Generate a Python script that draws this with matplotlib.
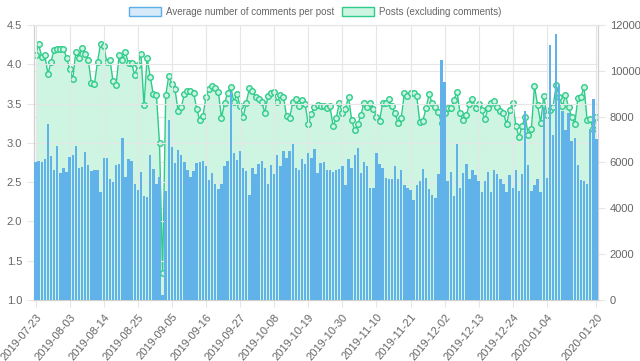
import datetime as dt
import matplotlib
matplotlib.use('Agg')
import matplotlib.pyplot as plt
from matplotlib.patches import Patch

plt.rcParams['font.family'] = ['Liberation Sans', 'DejaVu Sans']

start = dt.date(2019, 7, 23)
fechas = [(start + dt.timedelta(days=i)).isoformat() for i in range(182)]

# promedio de comentarios por post (eje izquierdo)
comentarios = [
    2.76, 2.77, 2.75, 2.79, 3.24, 2.83, 2.66, 2.96, 2.62, 2.68,
    2.63, 2.82, 2.85, 2.96, 2.68, 2.69, 2.88, 2.72, 2.64, 2.65,
    2.65, 2.37, 2.81, 2.81, 2.54, 2.50, 2.72, 2.73, 3.06, 2.56,
    2.80, 2.77, 2.48, 2.40, 2.63, 2.32, 2.31, 2.85, 2.67, 2.48,
    2.57, 1.06, 2.39, 3.29, 2.95, 2.74, 2.91, 2.85, 2.75, 2.65,
    2.57, 2.64, 2.74, 2.75, 2.77, 2.71, 2.53, 2.61, 2.48, 2.41,
    2.48, 2.70, 2.77, 3.65, 2.87, 2.78, 2.90, 2.68, 2.64, 2.33,
    2.68, 2.60, 2.73, 2.77, 2.68, 2.47, 2.72, 2.60, 2.85, 2.70,
    2.89, 2.81, 2.90, 2.99, 2.68, 2.65, 2.80, 2.73, 2.87, 2.81,
    2.92, 2.61, 2.74, 2.76, 2.65, 2.65, 2.63, 2.65, 2.67, 2.70,
    2.46, 2.80, 2.68, 2.85, 2.93, 2.61, 2.76, 2.70, 2.42, 2.43,
    2.87, 2.73, 2.68, 2.55, 2.54, 2.54, 2.70, 2.54, 2.66, 2.46,
    2.42, 2.40, 2.27, 2.46, 2.51, 2.67, 2.55, 2.41, 2.34, 2.30,
    2.60, 4.05, 3.78, 2.52, 2.63, 2.32, 2.99, 2.43, 2.61, 2.73,
    2.54, 2.65, 2.59, 2.52, 2.38, 2.51, 2.63, 2.38, 2.65, 2.60,
    2.54, 2.48, 2.38, 2.59, 2.42, 2.65, 2.39, 2.60, 3.41, 2.72,
    2.39, 2.46, 2.54, 2.38, 3.46, 2.55, 4.25, 3.10, 4.38, 3.73,
    3.40, 3.16, 3.38, 3.02, 3.06, 2.72, 2.53, 2.51, 2.47, 3.17,
    3.56, 3.05,
]

# posts sin contar comentarios (eje derecho)
posts = [
    10680, 11150, 10610, 10680, 9870, 10390, 10930, 10970, 10970, 10970,
    10580, 10070, 9640, 10830, 10580, 11000, 10750, 10490, 9470, 9420,
    10400, 11190, 11090, 10390, 10490, 9550, 9400, 10700, 10460, 10800,
    10320, 10340, 9800, 10250, 10750, 8500, 10570, 9750, 8970, 8940,
    6830, 1160, 8940, 9770, 9420, 9190, 8250, 8400, 8970, 9130,
    9130, 9050, 8340, 7850, 8020, 8860, 9200, 9330, 9230, 9080,
    7960, 8580, 9040, 9300, 8650, 9010, 8460, 7990, 8600, 9230,
    9110, 8860, 8750, 8630, 8170, 8910, 9050, 9080, 8620, 8940,
    8860, 8020, 7950, 8630, 8760, 8460, 8720, 8550, 7660, 8110,
    8430, 8490, 8450, 8465, 8363, 8465, 7592, 7927, 8582, 8174,
    8320, 8873, 7854, 7418, 7680, 8072, 8611, 8407, 8582, 8349,
    8000, 7825, 8582, 8582, 8756, 8465, 8145, 7709, 7927, 9018,
    8902, 9018, 9018, 8902, 7752, 7825, 8363, 8974, 8582, 8407,
    8218, 7709, 8145, 8363, 8363, 8727, 9091, 8145, 7854, 8072,
    8552, 8756, 8363, 8552, 8290, 7883, 8363, 8611, 8698, 8407,
    8261, 8145, 7680, 8290, 8582, 7592, 7127, 7592, 8000, 7199,
    7447, 9338, 8494, 7738, 8902, 8072, 8290, 8436, 9382, 8873,
    8465, 8945, 8407, 8000, 7680, 8800, 8873, 9280, 7855, 7884,
    7440, 8000,
]

ticks_x = list(range(0, 166, 11)) + [181]

azul = '#60b2e8'
verde = '#2ecc8a'
verde_claro = '#cef4e2'
gris = '#666666'
rejilla = '#e6e6e6'

fig = plt.figure(figsize=(6.4, 3.61), dpi=100)
ax = fig.add_axes([34 / 640, 1 - 300 / 361, 564 / 640, 275 / 361])
ax2 = ax.twinx()

x = list(range(len(fechas)))

# linea con area (detras)
ax2.fill_between(x, posts, 0, color=verde_claro, lw=0, zorder=1)
ax2.plot(x, posts, color=verde, lw=1, marker='o', ms=4, mfc=verde_claro,
         mec=verde, mew=1, zorder=2)

# barras (delante)
ax.bar(x, comentarios, width=0.78, bottom=0, color=azul, zorder=3)

ax.set_zorder(ax2.get_zorder() + 1)
ax.patch.set_visible(False)

ax.set_xlim(-0.5, 181.5)
ax.set_ylim(1.0, 4.5)
ax2.set_ylim(0, 12000)

ax.set_yticks([1.0, 1.5, 2.0, 2.5, 3.0, 3.5, 4.0, 4.5])
ax.set_yticklabels(['1.0', '1.5', '2.0', '2.5', '3.0', '3.5', '4.0', '4.5'])
ax2.set_yticks(range(0, 12001, 2000))
ax.set_xticks(ticks_x)
ax.set_xticklabels([fechas[i] for i in ticks_x], rotation=50, ha='right',
                   rotation_mode='anchor')

for a in (ax, ax2):
    a.tick_params(colors=gris, labelsize=8, length=5, width=0.8)
    a.tick_params(axis='both', color=rejilla)
    for s in a.spines.values():
        s.set_color('#d0d0d0')
        s.set_linewidth(0.8)
    a.spines['top'].set_color(rejilla)

ax2.grid(True, axis='y', color=rejilla, lw=0.8, zorder=0)
ax2.set_axisbelow(True)
ax.grid(True, color=rejilla, lw=0.8)
ax.set_axisbelow(True)

handles = [
    Patch(facecolor='#d7eaf9', edgecolor='#5aafe7', lw=1,
          label='Average number of comments per post'),
    Patch(facecolor=verde_claro, edgecolor=verde, lw=1,
          label='Posts (excluding comments)'),
]
fig.legend(handles=handles, loc='center', bbox_to_anchor=(0.493, 1 - 12 / 361),
           ncol=2, frameon=False, fontsize=7, labelcolor=gris,
           handlelength=3.3, handleheight=1.0, handletextpad=0.5,
           columnspacing=0.8)

fig.savefig('out.png', dpi=100)
